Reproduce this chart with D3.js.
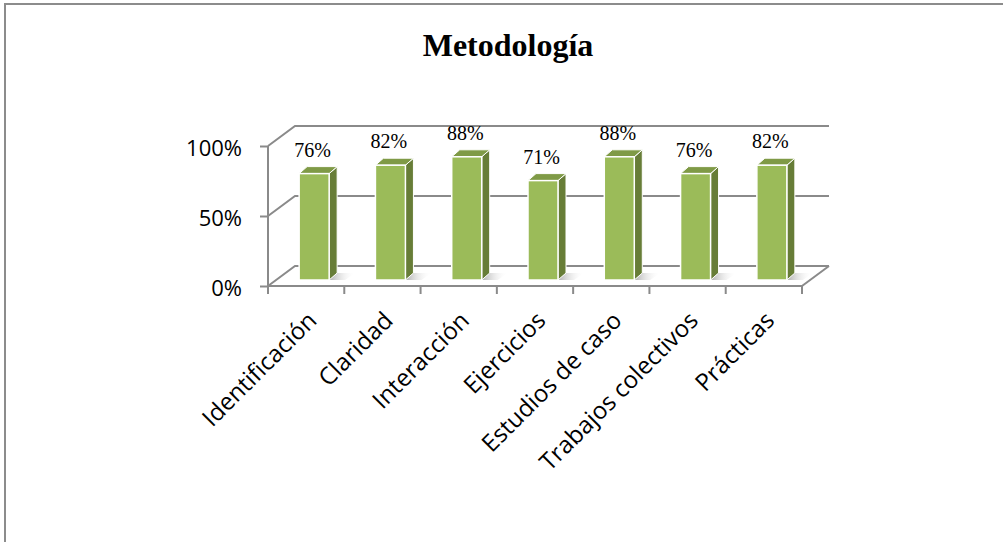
<!DOCTYPE html>
<html>
<head>
<meta charset="utf-8">
<script src="https://cdn.jsdelivr.net/npm/d3@7"></script>
<style>
  body { margin: 0; background: #fff; }
  svg { display: block; }
</style>
</head>
<body>
<div id="viz"></div>
<script>
var categories = ["Identificación", "Claridad", "Interacción", "Ejercicios", "Estudios de caso", "Trabajos colectivos", "Prácticas"];
var values = [0.76, 0.82, 0.88, 0.71, 0.88, 0.76, 0.82];
var valueLabels = ["76%", "82%", "88%", "71%", "88%", "76%", "82%"];
var yTicks = [0, 0.5, 1];
var yTickLabels = ["0%", "50%", "100%"];
var title = "Metodología";

var w = 1003, h = 542;

// depth of the 3d box and position of the bars inside it
var depth = {x: 27, y: -20};
var barOff = {x: 8, y: -6};
var barDepth = {x: 8, y: -7};
var barW = 30;
var gridColor = "#8a8a8a";

var svg = d3.select("#viz").append("svg")
  .attr("width", w)
  .attr("height", h);

// outer frame
svg.append("rect")
  .attr("x", 5).attr("y", 4)
  .attr("width", 1020).attr("height", 560)
  .attr("fill", "none")
  .attr("stroke", "#8c8c8c")
  .attr("stroke-width", 2);

svg.append("text")
  .attr("x", 508).attr("y", 56)
  .attr("text-anchor", "middle")
  .style("font-family", "'Liberation Serif', 'Times New Roman', serif")
  .style("font-weight", "bold")
  .style("font-size", "32px")
  .text(title);

var x = d3.scaleBand().domain(categories).range([268, 802]);
var y = d3.scaleLinear().domain([0, 1]).range([286, 146]);

var x0 = x.range()[0], x1 = x.range()[1];

function pts(arr) {
  return arr.map(function(p) { return p[0] + "," + p[1]; }).join(" ");
}

// back wall + side wall gridlines
var grid = svg.append("g")
  .attr("stroke", gridColor)
  .attr("stroke-width", 2)
  .attr("fill", "none");

yTicks.forEach(function(t) {
  var yy = y(t);
  grid.append("polyline")
    .attr("points", pts([[x0, yy], [x0 + depth.x, yy + depth.y], [x1 + depth.x, yy + depth.y]]));
});
// right floor edge
grid.append("line")
  .attr("x1", x1).attr("y1", y(0))
  .attr("x2", x1 + depth.x).attr("y2", y(0) + depth.y);

// floor shadow gradient
var defs = svg.append("defs");
var grad = defs.append("linearGradient").attr("id", "shadow")
  .attr("x1", "0").attr("y1", "0").attr("x2", "1").attr("y2", "0");
grad.append("stop").attr("offset", "0").attr("stop-color", "#9a9a9a").attr("stop-opacity", 0.8);
grad.append("stop").attr("offset", "1").attr("stop-color", "#ffffff").attr("stop-opacity", 0);

var bars = svg.selectAll("g.bar")
  .data(values)
  .enter().append("g")
  .attr("class", "bar");

bars.each(function(d, i) {
  var g = d3.select(this);
  var cx = x(categories[i]) + x.bandwidth() / 2;
  var left = cx - barW / 2 + barOff.x;
  var right = left + barW;
  var bottom = y(0) + barOff.y;
  var top = bottom - (y(0) - y(d));

  // shadow
  g.append("polygon")
    .attr("points", pts([[right, bottom], [right + barDepth.x, bottom + barDepth.y],
                         [right + barDepth.x + 18, bottom + barDepth.y], [right + 16, bottom]]))
    .attr("fill", "url(#shadow)");

  // side
  g.append("polygon")
    .attr("points", pts([[right, bottom], [right, top], [right + barDepth.x, top + barDepth.y],
                         [right + barDepth.x, bottom + barDepth.y]]))
    .attr("fill", "#677d37")
    .attr("stroke", "#ffffff").attr("stroke-width", 1);
  // top
  g.append("polygon")
    .attr("points", pts([[left, top], [right, top], [right + barDepth.x, top + barDepth.y],
                         [left + barDepth.x, top + barDepth.y]]))
    .attr("fill", "#7f9a46")
    .attr("stroke", "#ffffff").attr("stroke-width", 1);
  // front
  g.append("rect")
    .attr("x", left).attr("y", top)
    .attr("width", barW).attr("height", bottom - top)
    .attr("fill", "#9bbb59")
    .attr("stroke", "#ffffff").attr("stroke-width", 1.5);

  g.append("text")
    .attr("x", cx + 6.5)
    .attr("y", top - 17)
    .attr("text-anchor", "middle")
    .style("font-family", "'Liberation Serif', 'Times New Roman', serif")
    .style("font-size", "20px")
    .text(valueLabels[i]);
});

// front axes
var yAxis = d3.axisLeft(y)
  .tickValues(yTicks)
  .tickFormat(function(d, i) { return yTickLabels[i]; })
  .tickSize(8)
  .tickPadding(18);

var ya = svg.append("g")
  .attr("transform", "translate(" + x0 + ",0)")
  .call(yAxis);
ya.select(".domain").attr("stroke", gridColor).attr("stroke-width", 2).attr("d", "M0," + y(0) + "V" + y(1));
ya.selectAll(".tick line").attr("stroke", gridColor).attr("stroke-width", 2);
ya.selectAll(".tick text")
  .attr("dy", "0.45em")
  .style("font-family", "'Open Sans', sans-serif")
  .style("font-size", "22px")
  .attr("fill", "#000");

var xAxis = d3.axisBottom(x).tickSize(0).tickFormat("");
var xa = svg.append("g")
  .attr("transform", "translate(0," + y(0) + ")")
  .call(xAxis);
xa.select(".domain").attr("stroke", gridColor).attr("stroke-width", 2).attr("d", "M" + x0 + ",0H" + x1);

// tick marks at band edges
var edges = categories.map(function(c) { return x(c); }).concat([x1]);
xa.selectAll("line.edge")
  .data(edges)
  .enter().append("line")
  .attr("class", "edge")
  .attr("x1", function(d) { return d; }).attr("x2", function(d) { return d; })
  .attr("y1", 0).attr("y2", 8)
  .attr("stroke", gridColor).attr("stroke-width", 2);

svg.selectAll("text.cat")
  .data(categories)
  .enter().append("text")
  .attr("class", "cat")
  .attr("text-anchor", "end")
  .attr("transform", function(d) {
    var cx = x(d) + x.bandwidth() / 2;
    return "translate(" + (cx + 12) + "," + 322 + ") rotate(-45)";
  })
  .style("font-family", "'Open Sans', sans-serif")
  .style("font-size", "24px")
  .text(function(d) { return d; });
</script>
</body>
</html>
